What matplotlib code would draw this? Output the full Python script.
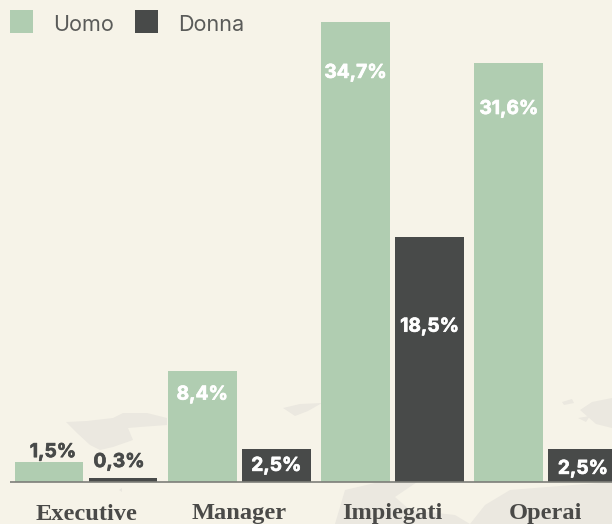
import matplotlib
matplotlib.use("Agg")
import matplotlib.pyplot as plt
import matplotlib.patheffects as pe
from matplotlib.patches import Polygon, Rectangle
from matplotlib.transforms import IdentityTransform

categories = ["Executive", "Manager", "Impiegati", "Operai"]
uomo = [1.5, 8.4, 34.7, 31.6]
donna = [0.3, 2.5, 18.5, 2.5]
uomo_labels = ["1,5%", "8,4%", "34,7%", "31,6%"]
donna_labels = ["0,3%", "2,5%", "18,5%", "2,5%"]

BG = "#f6f3e8"
GREEN = "#b0cdb1"
DARK = "#484a49"
MAP = "#ebe8e0"

fig = plt.figure(figsize=(6.12, 5.24), dpi=100, facecolor=BG)
ax = fig.add_axes([0, 0, 1, 1], facecolor=BG)
PITCH = 153.3
PX_PER_UNIT = 13.26
ax.set_xlim(-86 / PITCH, (612 - 86) / PITCH)
ax.set_ylim(-42 / PX_PER_UNIT, 482 / PX_PER_UNIT)
ax.axis("off")
tr = IdentityTransform()

# faint background map decoration, figure pixels measured from the top left
blobs = [
    [(66,422),(87,421),(113,418),(123,413),(147,413),(167,418),(167,425),(140,427),(128,428),(133,440),(113,447),(100,450),(90,445),(77,433)],
    [(283,408),(300,404),(322,403),(308,411),(295,416)],
    [(335,524),(345,490),(375,483),(420,480),(395,497),(410,510),(455,515),(470,524)],
    [(470,524),(485,505),(510,490),(560,486),(612,482),(612,524)],
    [(580,410),(592,402),(612,398),(612,428),(596,424)],
    [(562,402),(572,399),(574,403),(564,405)],
    [(578,418),(590,416),(586,422)],
    [(119,490),(122,488),(122,492)],
]
for b in blobs:
    ax.add_patch(Polygon([(x, 524 - y) for x, y in b], closed=True, fc=MAP, ec="none",
                         transform=tr, zorder=0))

w = 0.45
off = 37 / PITCH
pos = list(range(len(categories)))
ax.bar([p - off for p in pos], uomo, w, color=GREEN, zorder=2)
ax.bar([p + off for p in pos], donna, w, color=DARK, zorder=2)
ax.plot([-76 / PITCH, 526 / PITCH], [0, 0], color="#7d7e79", lw=1.2, zorder=2.5,
        solid_capstyle="butt")
ax.plot([526 / PITCH, 3.5], [0, 0], color="#7d7e79", lw=1.2, zorder=1.5, solid_capstyle="butt")

LAB = dict(ha="center", va="center", fontfamily="Inter", fontweight="bold", fontsize=13.8, zorder=4)
STROKE = lambda c: [pe.withStroke(linewidth=0.5, foreground=c)]
# label centre relative to the bar top, pixels (positive = inside the bar), and sideways nudge
uomo_drop = [-10, 24, 51, 46]
donna_drop = [-16, 17, 90, 20]
uomo_nudge = [4, 0, 0, 0]
donna_nudge = [-4, 0, 0, 0]
for p, v, s, d, n in zip(pos, uomo, uomo_labels, uomo_drop, uomo_nudge):
    c = DARK if d < 0 else "white"
    ax.text(p - off + n / PITCH, v - d / PX_PER_UNIT, s, color=c, path_effects=STROKE(c), **LAB)
for p, v, s, d, n in zip(pos, donna, donna_labels, donna_drop, donna_nudge):
    c = DARK if d < 0 else "white"
    ax.text(p + off + n / PITCH, v - d / PX_PER_UNIT, s, color=c, path_effects=STROKE(c), **LAB)

for p, c in zip(pos, categories):
    ax.text(p, -32 / PX_PER_UNIT, c, ha="center", va="center", fontfamily="Liberation Serif",
            fontweight="bold", fontsize=17.6, color="#4a4a48", zorder=4)

# legend
for x0, col, name, tx in [(10, GREEN, "Uomo", 53.5), (135, DARK, "Donna", 178.5)]:
    ax.add_patch(Rectangle((x0, 524 - 33), 23, 23, fc=col, ec="none", transform=tr, zorder=4))
    ax.text(tx, 524 - 25, name, transform=tr, va="center", ha="left", fontfamily="Inter",
            fontsize=15.5, color="#5a5b59")

fig.savefig("out.png", dpi=100, facecolor=BG)
